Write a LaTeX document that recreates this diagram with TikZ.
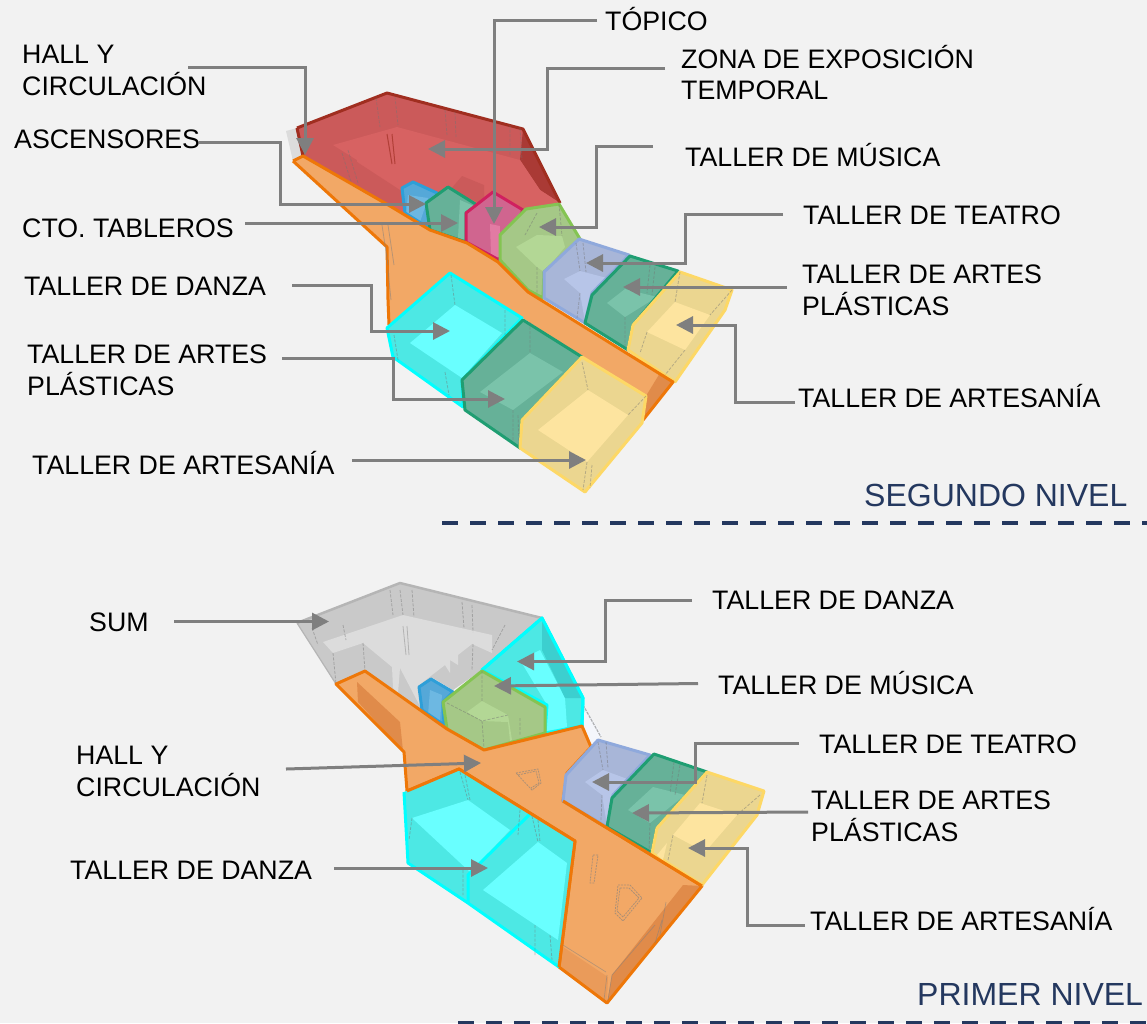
\documentclass[tikz,border=0pt]{standalone}
\usepackage{fontspec}
\setmainfont{Liberation Sans}
\usetikzlibrary{arrows.meta}
\definecolor{bgc}{HTML}{F2F2F2}
\definecolor{navy}{HTML}{24385F}
\definecolor{lineg}{HTML}{7F7F7F}
\definecolor{orS}{HTML}{EE7708}\definecolor{orF}{HTML}{F2A866}\definecolor{orD}{HTML}{E08B4A}
\definecolor{cyS}{HTML}{00FFFF}\definecolor{cyW}{HTML}{4DE8E4}\definecolor{cyF}{HTML}{69FFFF}\definecolor{cyD}{HTML}{3CCFCF}
\definecolor{teS}{HTML}{1F9E72}\definecolor{teW}{HTML}{66B198}\definecolor{teF}{HTML}{7AC3AA}
\definecolor{yeS}{HTML}{FDD866}\definecolor{yeW}{HTML}{EBD690}\definecolor{yeF}{HTML}{FDE49F}
\definecolor{laS}{HTML}{8FA9DC}\definecolor{laW}{HTML}{A8B6D8}\definecolor{laF}{HTML}{B7C5E8}
\definecolor{grS}{HTML}{84C452}\definecolor{grW}{HTML}{A5C887}\definecolor{grF}{HTML}{B3D795}
\definecolor{piS}{HTML}{D0205F}\definecolor{piW}{HTML}{D0658F}\definecolor{piF}{HTML}{E27BA3}
\definecolor{blS}{HTML}{2E9FD8}\definecolor{blW}{HTML}{55A8D8}\definecolor{blF}{HTML}{6DB8E2}
\definecolor{reS}{HTML}{A02E20}\definecolor{reW}{HTML}{CB5A5A}\definecolor{reF}{HTML}{D76262}\definecolor{reD}{HTML}{AA3A35}
\definecolor{gyW}{HTML}{C9C9C9}\definecolor{gyF}{HTML}{DCDCDC}\definecolor{gyS}{HTML}{B5B5B5}
\newcommand\room[5]{\fill[#2] #4 -- cycle; \fill[#3] #5 -- cycle; \draw[#1,line width=3pt,line join=round] #4 -- cycle;}
\tikzset{
 lab/.style={anchor=west,inner sep=0pt,text height=19pt,text depth=0pt,align=left,font=\fontsize{26.75}{31.5}\selectfont},
 lev/.style={anchor=west,inner sep=0pt,text height=23pt,text depth=0pt,text=navy,font=\fontsize{32}{36}\selectfont},
 conn/.style={draw=lineg,line width=3pt,-{Triangle[length=17pt,width=17pt]}},
 crease/.style={draw=black!55,opacity=.45,line width=.8pt,dash pattern=on 3pt off 1.5pt},
 divider/.style={draw=navy,line width=3.2pt,dash pattern=on 16pt off 12pt},
}
\begin{document}
\begin{tikzpicture}[x=1pt,y=-1pt]
\fill[bgc] (0,0) rectangle (1147,1023);
\useasboundingbox (0,0) rectangle (1147,1023);

%% ---------- upper level ----------
\fill[gyF] (286,131) -- (297,128) -- (303,156) -- (293,161) -- cycle;
\fill[reW] (297,128) -- (387,93) -- (523,129) -- (560,203) -- (467,243) -- (430,230) -- (303,156) -- cycle;
\fill[reD] (523,129) -- (560,203) -- (540,190) -- (520,160) -- cycle;
\fill[reF] (333,145) -- (397,127) -- (520,160) -- (540,190) -- (560,203) -- (467,243) -- (430,230) -- (400,215) -- (357,162) -- (357,160) -- cycle;
\fill[reW] (357,162) -- (400,190) -- (420,200) -- (390,205) -- (358,187) -- cycle;
\fill[reW] (450,190) -- (462,176) -- (484,185) -- (484,205) -- cycle;
\draw[reS,line width=3pt,line join=round] (297,128) -- (387,93) -- (523,129) -- (560,203);
\draw[reS,line width=3pt] (297,128) -- (303,156);
\draw[crease] (376,98)--(380,127) (395,97)--(398,125) (445,110)--(447,135) (455,112)--(456,137) (510,125)--(510,155) (520,128)--(522,160) (342,153)--(352,185) (348,150)--(358,183);
\draw[reS!60!reW,line width=1pt] (387,134)--(392,164) (392,134)--(395,164);
\room{blS}{blW}{blF}{(402,188) -- (413,182) -- (437,193) -- (440,235) -- (405,213)}{(408,195) -- (428,198) -- (420,222) -- (406,213)}
\room{teS}{teW}{teF}{(426,203) -- (448,187) -- (477,205) -- (466,213) -- (466,242) -- (430,230)}{(460,200) -- (476,207) -- (466,213) -- (466,240) -- (458,238)}
\room{piS}{piW}{piF}{(466,213) -- (493,192) -- (523,210) -- (499,260) -- (466,242)}{(490,224) -- (500,226) -- (499,258) -- (491,254)}
\room{grS}{grW}{grF}{(500,235) -- (526,209) -- (559,204) -- (580,239) -- (544,272) -- (543,298) -- (528,290) -- (500,260)}{(516,247) -- (537,235) -- (562,236) -- (565,247) -- (544,272) -- (537,267)}
\draw[crease] (537,213)--(525,235) (537,267)--(537,294) (559,204)--(562,236);
\room{laS}{laW}{laF}{(544,272) -- (579,239) -- (629,255) -- (592,293) -- (585,323) -- (544,298)}{(564,279) -- (580,271) -- (607,278) -- (592,293) -- (585,322) -- (580,293)}
\draw[crease] (576,243)--(580,271) (583,243)--(586,272) (580,293)--(577,318);
\room{teS}{teW}{teF}{(592,295) -- (630,256) -- (678,271) -- (633,325) -- (628,350) -- (585,323)}{(607,303) -- (625,289) -- (657,297) -- (625,317)}
\draw[crease] (650,265)--(647,293) (655,267)--(652,295) (625,317)--(625,348);
\room{yeS}{yeW}{yeF}{(633,325) -- (680,272) -- (732,290) -- (725,310) -- (675,382) -- (628,350)}{(647,332) -- (675,302) -- (710,315) -- (685,350)}
\draw[crease] (680,272)--(675,302) (732,290)--(710,315) (647,332)--(640,353) (685,350)--(665,375);
% orange slab
\fill[orF] (293,161) -- (303,156) -- (390,206) -- (430,230) -- (467,243) -- (498,262) -- (528,292) -- (673,382) -- (643,420) -- (646,396) -- (582,357) -- (523,318) -- (450,272) -- (389,325) -- (388,300) -- (387,247) -- cycle;
\fill[orD] (660,373) -- (673,382) -- (643,420) -- (646,396) -- cycle;
\draw[orS,line width=3pt,line join=round] (293,161) -- (303,156) -- (390,206) -- (430,230) -- (467,243) -- (498,262) -- (528,292) -- (673,382) -- (643,420);
\draw[orS,line width=3pt,line join=round] (389,325) -- (388,300) -- (387,247) -- (293,161);
\draw[black!50,opacity=.5,line width=.8pt] (382,225)--(388,265) (388,225)--(394,265) (388,270)--(391,300);
% cyan room
\room{cyS}{cyW}{cyF}{(387,328) -- (450,273) -- (522,318) -- (462,380) -- (463,407) -- (393,357)}{(410,343) -- (455,305) -- (502,333) -- (462,378)}
\draw[crease] (451,275)--(455,305) (394,335)--(398,360) (505,310)--(505,335) (445,372)--(449,395);
% teal front
\room{teS}{teW}{teF}{(462,380) -- (523,320) -- (582,357) -- (522,420) -- (520,448) -- (465,410)}{(480,392) -- (530,353) -- (563,372) -- (513,410)}
\draw[crease] (530,322)--(530,353) (513,410)--(513,440) (518,415)--(519,445);
% yellow front
\room{yeS}{yeW}{yeF}{(522,420) -- (582,357) -- (646,396) -- (642,423) -- (585,492) -- (520,448)}{(538,430) -- (588,390) -- (628,415) -- (587,462)}
\draw[crease] (582,362)--(588,390) (646,396)--(628,415) (587,462)--(583,490) (592,465)--(590,488);

%% ---------- lower level ----------
\fill[gyW] (297,623) -- (400,583) -- (542,618) -- (482,670) -- (453,690) -- (433,678) -- (420,687) -- (423,713) -- (365,671) -- (336,684) -- cycle;
\fill[gyF] (323,642) -- (403,615) -- (492,635) -- (492,653) -- (472,644) -- (458,655) -- (458,665) -- (450,660) -- (450,673) -- (445,665) -- (423,682) -- (420,687) -- (422,710) -- (400,668) -- (398,693) -- (393,688) -- (392,667) -- (363,643) -- (333,653) -- cycle;
\draw[gyS,line width=2.5pt,line join=round] (297,623) -- (400,583) -- (542,618);
\draw[gyS,line width=1.2pt] (297,623) -- (336,684);
\draw[crease] (390,590)--(393,615) (400,590)--(403,615) (412,590)--(414,617) (462,602)--(464,628) (472,605)--(473,632) (505,625)--(492,650) (312,628)--(318,645) (343,625)--(346,640) (363,643)--(365,671) (333,653)--(336,684) (473,644)--(472,670);
\draw[black!45,opacity=.5,line width=.8pt] (403,626)--(406,655) (407,626)--(409,655);
\fill[white!90!laS] (583,705) -- (602,735) -- (592,746) -- (582,726) -- cycle;
\draw[black!50,opacity=.6,line width=1.2pt,dash pattern=on 3pt off 1pt] (583,705) -- (601,737);
% cyan back
\room{cyS}{cyW}{cyF}{(482,670) -- (542,618) -- (583,698) -- (582,726) -- (545,733) -- (547,705)}{(520,660) -- (540,650) -- (565,698) -- (567,727) -- (545,733) -- (547,705)}
\fill[cyD] (542,618) -- (583,698) -- (565,698) -- (542,650) -- cycle;
\draw[cyS,line width=3pt,line join=round] (482,670) -- (542,618) -- (583,698) -- (582,726);
\room{blS}{blW}{blF}{(419,687) -- (431,679) -- (453,692) -- (443,702) -- (444,725) -- (422,710)}{(430,690) -- (442,695) -- (440,722) -- (428,715)}
\room{grS}{grW}{grF}{(443,702) -- (482,671) -- (545,707) -- (545,733) -- (484,750) -- (447,729)}{(467,712) -- (482,701) -- (508,715) -- (512,740) -- (510,741) -- (508,722) -- (482,721)}
\draw[crease] (482,671)--(482,701) (482,721)--(484,748) (447,703)--(482,721) -- (508,715) (520,718)--(520,735);
% orange slab
\fill[orF] (336,684) -- (365,671) -- (447,729) -- (484,750) -- (582,726) -- (591,747) -- (567,773) -- (563,801) -- (702,886) -- (607,1003) -- (559,967) -- (575,841) -- (459,769) -- (407,791) -- (404,752) -- cycle;
\fill[orD] (357,682) -- (400,722) -- (403,751) -- (358,702) -- cycle;
\fill[orD] (683,885) -- (702,886) -- (607,1003) -- (612,975) -- cycle;
\fill[orD!45!orF] (563,947) -- (608,977) -- (607,1003) -- (559,967) -- cycle;
\draw[orS,line width=3pt,line join=round] (336,684) -- (365,671) -- (447,729) -- (484,750) -- (582,726) -- (591,747) -- (567,773) -- (563,801) -- (702,886) -- (607,1003) -- (559,967) -- (575,841) -- (459,769) -- (407,791) -- (404,752) -- cycle;
\draw[black!50,opacity=.6,line width=.8pt,dash pattern=on 2pt off 1pt] (516,773) -- (538,769) -- (541,783) -- (532,790) -- cycle (518,775) -- (536,771) -- (539,783) -- (531,788);
\draw[black!50,opacity=.6,line width=.8pt,dash pattern=on 2pt off 1pt] (618,885) -- (630,885) -- (642,898) -- (623,921) -- (615,913) -- cycle (620,888) -- (629,888) -- (639,898) -- (623,917) -- (617,911) -- cycle;
\draw[black!50,opacity=.6,line width=.8pt,dash pattern=on 2pt off 1pt] (593,855) -- (598,855) -- (594,883) -- (590,883) -- cycle;
\draw[black!50,opacity=.5,line width=.7pt] (563,945) -- (606,972) (662,920) -- (655,943) (666,902)--(660,935) (612,975)--(655,925) (607,975)--(604,1000) (612,975)--(608,1000);
% lavender, teal, yellow rooms right
\room{laS}{laW}{laF}{(566,775) -- (598,740) -- (650,755) -- (613,795) -- (607,827) -- (563,801)}{(585,782) -- (603,770) -- (630,780) -- (613,795) -- (607,825) -- (602,795)}
\draw[crease] (598,742)--(603,770) (606,742)--(608,768) (602,795)--(601,820);
\room{teS}{teW}{teF}{(612,798) -- (654,754) -- (707,772) -- (657,828) -- (652,853) -- (607,827)}{(628,810) -- (653,787) -- (685,795) -- (650,823)}
\draw[crease] (674,762)--(670,793) (680,765)--(675,795) (650,823)--(649,852);
\room{yeS}{yeW}{yeF}{(657,828) -- (707,772) -- (764,791) -- (757,815) -- (702,885) -- (652,853)}{(673,835) -- (700,803) -- (737,815) -- (705,852)}
\draw[crease] (707,775)--(702,803) (760,795)--(737,815) (673,835)--(668,860);
\fill[yeF] (657,855) -- (667,843) -- (663,860) -- cycle;
\draw[orS,line width=3pt,line join=round] (563,801) -- (702,886);
% cyan rooms lower
\fill[cyW] (404,792) -- (459,769) -- (575,841) -- (559,967) -- (468,903) -- (408,863) -- cycle;
\fill[cyF] (412,818) -- (468,800) -- (510,830) -- (470,872) -- cycle;
\fill[cyF] (483,890) -- (538,842) -- (567,863) -- (558,940) -- cycle;
\draw[cyS,line width=3pt,line join=round] (404,792) -- (408,863) -- (468,903) -- (559,967);
\draw[cyS,line width=3pt] (468,903) -- (468,875) -- (530,814);
\draw[orS,line width=3pt,line join=round] (407,791) -- (459,769) -- (575,841) -- (559,967);
\draw[crease] (460,772)--(468,800) (465,775)--(470,800) (412,818)--(409,840) (532,816)--(538,842) (538,820)--(540,842) (463,870)--(463,895) (535,925)--(535,955) (550,935)--(552,960) (520,810)--(518,835);

%% ---------- level captions and dividers ----------
\node[lev] (lv2) at (864,495) {SEGUNDO NIVEL};
\node[lev] (lv1) at (917,994) {PRIMER NIVEL};
\coordinate (d2a) at (442,523); \coordinate (d2b) at (1147,523);
\coordinate (d1a) at (458,1022.5); \coordinate (d1b) at (1147,1022.5);
\draw[divider] (d2a) -- (d2b);
\draw[divider] (d1a) -- (d1b);

%% ---------- labels ----------
\node[lab] (tHall) at (22,85.5) {HALL Y\\CIRCULACIÓN};
\node[lab] (tAsc) at (14,139) {ASCENSORES};
\node[lab] (tCto) at (22,228) {CTO. TABLEROS};
\node[lab] (tTop) at (605,21) {TÓPICO};
\node[lab] (tZona) at (681,90) {ZONA DE EXPOSICIÓN\\TEMPORAL};
\node[lab] (tMus) at (685,157) {TALLER DE MÚSICA};
\node[lab] (tTea) at (803,215) {TALLER DE TEATRO};
\node[lab] (tArt) at (802,305.5) {TALLER DE ARTES\\PLÁSTICAS};
\node[lab] (tArs) at (798,398) {TALLER DE ARTESANÍA};
\node[lab] (tDan) at (24,286) {TALLER DE DANZA};
\node[lab] (tArl) at (27,385.5) {TALLER DE ARTES\\PLÁSTICAS};
\node[lab] (tAsl) at (32,465) {TALLER DE ARTESANÍA};
\node[lab] (bSum) at (89,622) {SUM};
\node[lab] (bDan) at (712,600) {TALLER DE DANZA};
\node[lab] (bMus) at (718,685) {TALLER DE MÚSICA};
\node[lab] (bHall) at (76,786.5) {HALL Y\\CIRCULACIÓN};
\node[lab] (bTea) at (819,744) {TALLER DE TEATRO};
\node[lab] (bArt) at (811,831.5) {TALLER DE ARTES\\PLÁSTICAS};
\node[lab] (bArs) at (810,921) {TALLER DE ARTESANÍA};
\node[lab] (bDal) at (70,870) {TALLER DE DANZA};

%% ---------- connector ends ----------
\coordinate (s1) at (188,67);   \coordinate (e1) at (305,155);
\coordinate (s2) at (199,142);  \coordinate (c2) at (280,204);  \coordinate (e2) at (426,204);
\coordinate (s3) at (245,223);  \coordinate (e3) at (458,223);
\coordinate (s4) at (597,20);   \coordinate (e4) at (494,224);
\coordinate (s5) at (665,68);   \coordinate (c5) at (547,149);  \coordinate (e5) at (428,149);
\coordinate (s6) at (653,146);  \coordinate (c6) at (596,227);  \coordinate (e6) at (539,227);
\coordinate (s7) at (783,214);  \coordinate (c7) at (685,263);  \coordinate (e7) at (586,263);
\coordinate (s8) at (787,287);  \coordinate (e8) at (623,287);
\coordinate (s9) at (795,402);  \coordinate (c9) at (735,325);  \coordinate (e9) at (676,325);
\coordinate (s10) at (292,285); \coordinate (c10) at (371,331); \coordinate (e10) at (450,331);
\coordinate (s11) at (282,358); \coordinate (c11) at (393,399); \coordinate (e11) at (505,399);
\coordinate (s12) at (352,460); \coordinate (e12) at (586,460);
\coordinate (s13) at (174,621.500); \coordinate (e13) at (329,621.500);
\coordinate (s14) at (692,600); \coordinate (c14) at (605,661.500); \coordinate (e14) at (517,661.500);
\coordinate (s15) at (698,683.500); \coordinate (e15) at (494,686);
\coordinate (s16) at (286,769); \coordinate (e16) at (481,763);
\coordinate (s17) at (799,743); \coordinate (c17) at (695,782); \coordinate (e17) at (592,782);
\coordinate (s18) at (808,812); \coordinate (e18) at (632,813);
\coordinate (s19) at (805,925); \coordinate (c19) at (747,848); \coordinate (e19) at (688,848);
\coordinate (s20) at (334,868); \coordinate (e20) at (488,868);

%% ---------- connectors ----------
\draw[conn] (s1) -| (e1);
\draw[conn] (s2) -| (c2) -- (e2);
\draw[conn] (s3) -- (e3);
\draw[conn] (s4) -| (e4);
\draw[conn] (s5) -| (c5) -- (e5);
\draw[conn] (s6) -| (c6) -- (e6);
\draw[conn] (s7) -| (c7) -- (e7);
\draw[conn] (s8) -- (e8);
\draw[conn] (s9) -| (c9) -- (e9);
\draw[conn] (s10) -| (c10) -- (e10);
\draw[conn] (s11) -| (c11) -- (e11);
\draw[conn] (s12) -- (e12);
\draw[conn] (s13) -- (e13);
\draw[conn] (s14) -| (c14) -- (e14);
\draw[conn] (s15) -- (e15);
\draw[conn] (s16) -- (e16);
\draw[conn] (s17) -| (c17) -- (e17);
\draw[conn] (s18) -- (e18);
\draw[conn] (s19) -| (c19) -- (e19);
\draw[conn] (s20) -- (e20);
\end{tikzpicture}
\end{document}
